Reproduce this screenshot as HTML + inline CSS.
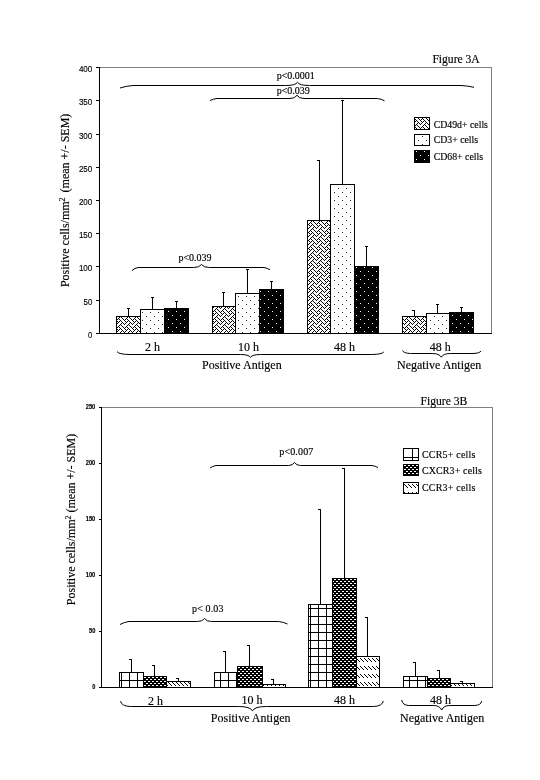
<!DOCTYPE html>
<html><head><meta charset="utf-8"><title>Figure 3</title>
<style>
html,body{margin:0;padding:0;background:#fff;}
body{width:540px;height:780px;overflow:hidden;font-family:"Liberation Serif",serif;}
svg{display:block;will-change:transform;}
text{fill:#000;stroke:#000;stroke-width:0.15px;}
</style></head><body>
<svg width="540" height="780" viewBox="0 0 540 780">
<defs>
<pattern id="weave" patternUnits="userSpaceOnUse" x="4" y="0" width="8" height="8"><rect x="0" y="0" width="8" height="8" fill="#fff"/><rect x="0" y="0" width="1" height="1" fill="#000"/><rect x="4" y="0" width="1" height="1" fill="#000"/><rect x="1" y="1" width="1" height="1" fill="#000"/><rect x="3" y="1" width="1" height="1" fill="#000"/><rect x="5" y="1" width="1" height="1" fill="#000"/><rect x="2" y="2" width="1" height="1" fill="#000"/><rect x="6" y="2" width="1" height="1" fill="#000"/><rect x="1" y="3" width="1" height="1" fill="#000"/><rect x="5" y="3" width="1" height="1" fill="#000"/><rect x="7" y="3" width="1" height="1" fill="#000"/><rect x="0" y="4" width="1" height="1" fill="#000"/><rect x="4" y="4" width="1" height="1" fill="#000"/><rect x="3" y="5" width="1" height="1" fill="#000"/><rect x="5" y="5" width="1" height="1" fill="#000"/><rect x="2" y="6" width="1" height="1" fill="#000"/><rect x="6" y="6" width="1" height="1" fill="#000"/><rect x="1" y="7" width="1" height="1" fill="#000"/><rect x="3" y="7" width="1" height="1" fill="#000"/><rect x="7" y="7" width="1" height="1" fill="#000"/></pattern>
<pattern id="dots" patternUnits="userSpaceOnUse" x="0" y="0" width="8" height="8"><rect x="0" y="0" width="8" height="8" fill="#fff"/><rect x="6" y="0" width="1" height="1" fill="#222"/><rect x="2" y="4" width="1" height="1" fill="#222"/></pattern>
<pattern id="dotsinv" patternUnits="userSpaceOnUse" x="0" y="0" width="8" height="8"><rect x="0" y="0" width="8" height="8" fill="#000"/><rect x="4" y="3" width="1" height="1" fill="#fff"/><rect x="0" y="7" width="1" height="1" fill="#fff"/></pattern>
<pattern id="dash" patternUnits="userSpaceOnUse" x="0" y="0" width="4" height="4"><rect x="0" y="0" width="4" height="4" fill="#000"/><rect x="0" y="1" width="2" height="1" fill="#fff"/><rect x="2" y="3" width="2" height="1" fill="#fff"/></pattern>
<pattern id="ddiag2" patternUnits="userSpaceOnUse" x="0" y="2" width="4" height="8"><rect x="0" y="0" width="4" height="8" fill="#fff"/><rect x="0" y="2" width="1" height="1" fill="#000"/><rect x="1" y="3" width="1" height="1" fill="#000"/><rect x="2" y="4" width="1" height="1" fill="#000"/><rect x="3" y="5" width="1" height="1" fill="#000"/></pattern>
<pattern id="ddiag" patternUnits="userSpaceOnUse" x="0" y="0" width="4" height="8"><rect x="0" y="0" width="4" height="8" fill="#fff"/><rect x="0" y="2" width="1" height="1" fill="#000"/><rect x="1" y="3" width="1" height="1" fill="#000"/><rect x="2" y="4" width="1" height="1" fill="#000"/><rect x="3" y="5" width="1" height="1" fill="#000"/></pattern>
</defs>
<rect x="0" y="0" width="540" height="780" fill="#fff"/>
<g shape-rendering="crispEdges">
<line x1="99" y1="67.5" x2="492" y2="67.5" stroke="#808080" stroke-width="1"/>
<line x1="491.5" y1="67" x2="491.5" y2="334" stroke="#808080" stroke-width="1"/>
<line x1="128.5" y1="308" x2="128.5" y2="316" stroke="#000" stroke-width="1"/>
<line x1="127" y1="308.5" x2="130" y2="308.5" stroke="#000" stroke-width="1"/>
<line x1="152.5" y1="297" x2="152.5" y2="309" stroke="#000" stroke-width="1"/>
<line x1="151" y1="297.5" x2="154" y2="297.5" stroke="#000" stroke-width="1"/>
<line x1="176.5" y1="301" x2="176.5" y2="308" stroke="#000" stroke-width="1"/>
<line x1="175" y1="301.5" x2="178" y2="301.5" stroke="#000" stroke-width="1"/>
<rect x="116.5" y="316.5" width="24" height="17" fill="url(#weave)" stroke="#000" stroke-width="1"/>
<rect x="140.5" y="309.5" width="24" height="24" fill="url(#dots)" stroke="#000" stroke-width="1"/>
<rect x="164.5" y="308.5" width="24" height="25" fill="url(#dotsinv)" stroke="#000" stroke-width="1"/>
<line x1="223.5" y1="292" x2="223.5" y2="306" stroke="#000" stroke-width="1"/>
<line x1="222" y1="292.5" x2="225" y2="292.5" stroke="#000" stroke-width="1"/>
<line x1="247.5" y1="269" x2="247.5" y2="293" stroke="#000" stroke-width="1"/>
<line x1="246" y1="269.5" x2="249" y2="269.5" stroke="#000" stroke-width="1"/>
<line x1="271.5" y1="281" x2="271.5" y2="289" stroke="#000" stroke-width="1"/>
<line x1="270" y1="281.5" x2="273" y2="281.5" stroke="#000" stroke-width="1"/>
<rect x="212.5" y="306.5" width="23" height="27" fill="url(#weave)" stroke="#000" stroke-width="1"/>
<rect x="235.5" y="293.5" width="24" height="40" fill="url(#dots)" stroke="#000" stroke-width="1"/>
<rect x="259.5" y="289.5" width="24" height="44" fill="url(#dotsinv)" stroke="#000" stroke-width="1"/>
<line x1="319.5" y1="160" x2="319.5" y2="220" stroke="#000" stroke-width="1"/>
<line x1="317" y1="160.5" x2="320" y2="160.5" stroke="#000" stroke-width="1"/>
<line x1="342.5" y1="100" x2="342.5" y2="184" stroke="#000" stroke-width="1"/>
<line x1="341" y1="100.5" x2="344" y2="100.5" stroke="#000" stroke-width="1"/>
<line x1="366.5" y1="246" x2="366.5" y2="266" stroke="#000" stroke-width="1"/>
<line x1="365" y1="246.5" x2="368" y2="246.5" stroke="#000" stroke-width="1"/>
<rect x="307.5" y="220.5" width="23" height="113" fill="url(#weave)" stroke="#000" stroke-width="1"/>
<rect x="330.5" y="184.5" width="24" height="149" fill="url(#dots)" stroke="#000" stroke-width="1"/>
<rect x="354.5" y="266.5" width="24" height="67" fill="url(#dotsinv)" stroke="#000" stroke-width="1"/>
<line x1="414.5" y1="310" x2="414.5" y2="316" stroke="#000" stroke-width="1"/>
<line x1="412" y1="310.5" x2="415" y2="310.5" stroke="#000" stroke-width="1"/>
<line x1="437.5" y1="304" x2="437.5" y2="313" stroke="#000" stroke-width="1"/>
<line x1="436" y1="304.5" x2="439" y2="304.5" stroke="#000" stroke-width="1"/>
<line x1="461.5" y1="307" x2="461.5" y2="312" stroke="#000" stroke-width="1"/>
<line x1="460" y1="307.5" x2="463" y2="307.5" stroke="#000" stroke-width="1"/>
<rect x="402.5" y="316.5" width="24" height="17" fill="url(#weave)" stroke="#000" stroke-width="1"/>
<rect x="426.5" y="313.5" width="23" height="20" fill="url(#dots)" stroke="#000" stroke-width="1"/>
<rect x="449.5" y="312.5" width="24" height="21" fill="url(#dotsinv)" stroke="#000" stroke-width="1"/>
<line x1="99.5" y1="67" x2="99.5" y2="334" stroke="#000" stroke-width="1"/>
<line x1="99" y1="333.5" x2="492" y2="333.5" stroke="#000" stroke-width="1"/>
<line x1="96" y1="333.5" x2="99" y2="333.5" stroke="#000" stroke-width="1"/>
<text x="92.3" y="338.4" font-family="Liberation Sans" font-size="9.9" text-anchor="end" textLength="4.3" lengthAdjust="spacingAndGlyphs">0</text>
<line x1="96" y1="300.5" x2="99" y2="300.5" stroke="#000" stroke-width="1"/>
<text x="92.3" y="305.4" font-family="Liberation Sans" font-size="9.9" text-anchor="end" textLength="8.8" lengthAdjust="spacingAndGlyphs">50</text>
<line x1="96" y1="266.5" x2="99" y2="266.5" stroke="#000" stroke-width="1"/>
<text x="92.3" y="271.4" font-family="Liberation Sans" font-size="9.9" text-anchor="end" textLength="13.4" lengthAdjust="spacingAndGlyphs">100</text>
<line x1="96" y1="233.5" x2="99" y2="233.5" stroke="#000" stroke-width="1"/>
<text x="92.3" y="238.4" font-family="Liberation Sans" font-size="9.9" text-anchor="end" textLength="13.4" lengthAdjust="spacingAndGlyphs">150</text>
<line x1="96" y1="200.5" x2="99" y2="200.5" stroke="#000" stroke-width="1"/>
<text x="92.3" y="205.4" font-family="Liberation Sans" font-size="9.9" text-anchor="end" textLength="13.4" lengthAdjust="spacingAndGlyphs">200</text>
<line x1="96" y1="167.5" x2="99" y2="167.5" stroke="#000" stroke-width="1"/>
<text x="92.3" y="172.4" font-family="Liberation Sans" font-size="9.9" text-anchor="end" textLength="13.4" lengthAdjust="spacingAndGlyphs">250</text>
<line x1="96" y1="134.5" x2="99" y2="134.5" stroke="#000" stroke-width="1"/>
<text x="92.3" y="139.4" font-family="Liberation Sans" font-size="9.9" text-anchor="end" textLength="13.4" lengthAdjust="spacingAndGlyphs">300</text>
<line x1="96" y1="100.5" x2="99" y2="100.5" stroke="#000" stroke-width="1"/>
<text x="92.3" y="105.4" font-family="Liberation Sans" font-size="9.9" text-anchor="end" textLength="13.4" lengthAdjust="spacingAndGlyphs">350</text>
<line x1="96" y1="67.5" x2="99" y2="67.5" stroke="#000" stroke-width="1"/>
<text x="92.3" y="72.4" font-family="Liberation Sans" font-size="9.9" text-anchor="end" textLength="13.4" lengthAdjust="spacingAndGlyphs">400</text>
<text x="432.4" y="62.5" font-family="Liberation Serif" font-size="11.6" text-anchor="start" >Figure 3A</text>
<text transform="translate(68.7,287.1) rotate(-90)" font-family="Liberation Serif" font-size="12">Positive cells/mm<tspan font-size="8" dy="-4">2</tspan><tspan dy="4" dx="2"> (mean +/- SEM)</tspan></text>
<rect x="414.5" y="117.5" width="15" height="12" fill="url(#weave)" stroke="#000" stroke-width="1"/>
<rect x="414.5" y="134.5" width="15" height="11" fill="url(#dots)" stroke="#000" stroke-width="1"/>
<rect x="414.5" y="150.5" width="15" height="12" fill="url(#dotsinv)" stroke="#000" stroke-width="1"/>
<text x="433.7" y="127.5" font-family="Liberation Serif" font-size="9.8" text-anchor="start" >CD49d+ cells</text>
<text x="433.7" y="143" font-family="Liberation Serif" font-size="9.8" text-anchor="start" >CD3+ cells</text>
<text x="433.7" y="160" font-family="Liberation Serif" font-size="9.8" text-anchor="start" >CD68+ cells</text>
<text x="152.5" y="350.5" font-family="Liberation Serif" font-size="12" text-anchor="middle" >2 h</text>
<text x="248.6" y="350.5" font-family="Liberation Serif" font-size="12" text-anchor="middle" >10 h</text>
<text x="344.5" y="350.5" font-family="Liberation Serif" font-size="12" text-anchor="middle" >48 h</text>
<text x="440.3" y="350.5" font-family="Liberation Serif" font-size="12" text-anchor="middle" >48 h</text>
<text x="202" y="369" font-family="Liberation Serif" font-size="12" text-anchor="start" >Positive Antigen</text>
<text x="397" y="369.3" font-family="Liberation Serif" font-size="12" text-anchor="start" >Negative Antigen</text>
<text x="276.7" y="79.3" font-family="Liberation Serif" font-size="10" text-anchor="start" >p&lt;0.0001</text>
<text x="276.7" y="94.3" font-family="Liberation Serif" font-size="10" text-anchor="start" >p&lt;0.039</text>
<text x="178.4" y="260.8" font-family="Liberation Serif" font-size="10" text-anchor="start" >p&lt;0.039</text>
<line x1="101" y1="407.5" x2="493" y2="407.5" stroke="#808080" stroke-width="1"/>
<line x1="492.5" y1="407" x2="492.5" y2="688" stroke="#808080" stroke-width="1"/>
<line x1="131.5" y1="659" x2="131.5" y2="672" stroke="#000" stroke-width="1"/>
<line x1="129" y1="659.5" x2="132" y2="659.5" stroke="#000" stroke-width="1"/>
<line x1="154.5" y1="665" x2="154.5" y2="676" stroke="#000" stroke-width="1"/>
<line x1="152" y1="665.5" x2="155" y2="665.5" stroke="#000" stroke-width="1"/>
<line x1="178.5" y1="678" x2="178.5" y2="681" stroke="#000" stroke-width="1"/>
<line x1="176" y1="678.5" x2="179" y2="678.5" stroke="#000" stroke-width="1"/>
<rect x="119.5" y="672.5" width="24" height="15" fill="#fff" stroke="#000" stroke-width="1"/>
<line x1="121.5" y1="672" x2="121.5" y2="687" stroke="#000" stroke-width="1"/>
<line x1="129.5" y1="672" x2="129.5" y2="687" stroke="#000" stroke-width="1"/>
<line x1="137.5" y1="672" x2="137.5" y2="687" stroke="#000" stroke-width="1"/>
<line x1="119" y1="680.5" x2="143" y2="680.5" stroke="#000" stroke-width="1"/>
<rect x="143.5" y="676.5" width="23" height="11" fill="url(#dash)" stroke="#000" stroke-width="1"/>
<rect x="166.5" y="681.5" width="24" height="6" fill="url(#ddiag)" stroke="#000" stroke-width="1"/>
<line x1="225.5" y1="651" x2="225.5" y2="672" stroke="#000" stroke-width="1"/>
<line x1="223" y1="651.5" x2="226" y2="651.5" stroke="#000" stroke-width="1"/>
<line x1="249.5" y1="645" x2="249.5" y2="666" stroke="#000" stroke-width="1"/>
<line x1="247" y1="645.5" x2="250" y2="645.5" stroke="#000" stroke-width="1"/>
<line x1="273.5" y1="679" x2="273.5" y2="684" stroke="#000" stroke-width="1"/>
<line x1="271" y1="679.5" x2="274" y2="679.5" stroke="#000" stroke-width="1"/>
<rect x="214.5" y="672.5" width="22" height="15" fill="#fff" stroke="#000" stroke-width="1"/>
<line x1="220.5" y1="672" x2="220.5" y2="687" stroke="#000" stroke-width="1"/>
<line x1="228.5" y1="672" x2="228.5" y2="687" stroke="#000" stroke-width="1"/>
<line x1="214" y1="680.5" x2="236" y2="680.5" stroke="#000" stroke-width="1"/>
<rect x="237.5" y="666.5" width="25" height="21" fill="url(#dash)" stroke="#000" stroke-width="1"/>
<rect x="262.5" y="684.5" width="23" height="3" fill="url(#ddiag)" stroke="#000" stroke-width="1"/>
<line x1="320.5" y1="509" x2="320.5" y2="604" stroke="#000" stroke-width="1"/>
<line x1="318" y1="509.5" x2="321" y2="509.5" stroke="#000" stroke-width="1"/>
<line x1="344.5" y1="468" x2="344.5" y2="578" stroke="#000" stroke-width="1"/>
<line x1="342" y1="468.5" x2="345" y2="468.5" stroke="#000" stroke-width="1"/>
<line x1="367.5" y1="617" x2="367.5" y2="656" stroke="#000" stroke-width="1"/>
<line x1="365" y1="617.5" x2="368" y2="617.5" stroke="#000" stroke-width="1"/>
<rect x="308.5" y="604.5" width="24" height="83" fill="#fff" stroke="#000" stroke-width="1"/>
<line x1="310.5" y1="604" x2="310.5" y2="687" stroke="#000" stroke-width="1"/>
<line x1="318.5" y1="604" x2="318.5" y2="687" stroke="#000" stroke-width="1"/>
<line x1="326.5" y1="604" x2="326.5" y2="687" stroke="#000" stroke-width="1"/>
<line x1="308" y1="680.5" x2="332" y2="680.5" stroke="#000" stroke-width="1"/>
<line x1="308" y1="672.5" x2="332" y2="672.5" stroke="#000" stroke-width="1"/>
<line x1="308" y1="664.5" x2="332" y2="664.5" stroke="#000" stroke-width="1"/>
<line x1="308" y1="656.5" x2="332" y2="656.5" stroke="#000" stroke-width="1"/>
<line x1="308" y1="648.5" x2="332" y2="648.5" stroke="#000" stroke-width="1"/>
<line x1="308" y1="640.5" x2="332" y2="640.5" stroke="#000" stroke-width="1"/>
<line x1="308" y1="632.5" x2="332" y2="632.5" stroke="#000" stroke-width="1"/>
<line x1="308" y1="624.5" x2="332" y2="624.5" stroke="#000" stroke-width="1"/>
<line x1="308" y1="616.5" x2="332" y2="616.5" stroke="#000" stroke-width="1"/>
<line x1="308" y1="608.5" x2="332" y2="608.5" stroke="#000" stroke-width="1"/>
<rect x="332.5" y="578.5" width="24" height="109" fill="url(#dash)" stroke="#000" stroke-width="1"/>
<rect x="356.5" y="656.5" width="23" height="31" fill="url(#ddiag)" stroke="#000" stroke-width="1"/>
<line x1="415.5" y1="662" x2="415.5" y2="676" stroke="#000" stroke-width="1"/>
<line x1="413" y1="662.5" x2="416" y2="662.5" stroke="#000" stroke-width="1"/>
<line x1="439.5" y1="670" x2="439.5" y2="678" stroke="#000" stroke-width="1"/>
<line x1="437" y1="670.5" x2="440" y2="670.5" stroke="#000" stroke-width="1"/>
<line x1="462.5" y1="681" x2="462.5" y2="683" stroke="#000" stroke-width="1"/>
<line x1="460" y1="681.5" x2="463" y2="681.5" stroke="#000" stroke-width="1"/>
<rect x="403.5" y="676.5" width="24" height="11" fill="#fff" stroke="#000" stroke-width="1"/>
<line x1="409.5" y1="676" x2="409.5" y2="687" stroke="#000" stroke-width="1"/>
<line x1="417.5" y1="676" x2="417.5" y2="687" stroke="#000" stroke-width="1"/>
<line x1="425.5" y1="676" x2="425.5" y2="687" stroke="#000" stroke-width="1"/>
<line x1="403" y1="680.5" x2="427" y2="680.5" stroke="#000" stroke-width="1"/>
<rect x="427.5" y="678.5" width="23" height="9" fill="url(#dash)" stroke="#000" stroke-width="1"/>
<rect x="450.5" y="683.5" width="24" height="4" fill="url(#ddiag)" stroke="#000" stroke-width="1"/>
<line x1="101.5" y1="407" x2="101.5" y2="688" stroke="#000" stroke-width="1"/>
<line x1="101" y1="687.5" x2="493" y2="687.5" stroke="#000" stroke-width="1"/>
<line x1="99" y1="687.5" x2="101" y2="687.5" stroke="#000" stroke-width="1"/>
<text x="95.3" y="689.4" font-family="Liberation Sans" font-size="6.6" text-anchor="end" font-weight="bold" textLength="3.1" lengthAdjust="spacingAndGlyphs">0</text>
<line x1="99" y1="631.5" x2="101" y2="631.5" stroke="#000" stroke-width="1"/>
<text x="95.3" y="633.4" font-family="Liberation Sans" font-size="6.6" text-anchor="end" font-weight="bold" textLength="6.3" lengthAdjust="spacingAndGlyphs">50</text>
<line x1="99" y1="575.5" x2="101" y2="575.5" stroke="#000" stroke-width="1"/>
<text x="95.3" y="577.4" font-family="Liberation Sans" font-size="6.6" text-anchor="end" font-weight="bold" textLength="9.5" lengthAdjust="spacingAndGlyphs">100</text>
<line x1="99" y1="519.5" x2="101" y2="519.5" stroke="#000" stroke-width="1"/>
<text x="95.3" y="521.4" font-family="Liberation Sans" font-size="6.6" text-anchor="end" font-weight="bold" textLength="9.5" lengthAdjust="spacingAndGlyphs">150</text>
<line x1="99" y1="463.5" x2="101" y2="463.5" stroke="#000" stroke-width="1"/>
<text x="95.3" y="465.4" font-family="Liberation Sans" font-size="6.6" text-anchor="end" font-weight="bold" textLength="9.5" lengthAdjust="spacingAndGlyphs">200</text>
<line x1="99" y1="407.5" x2="101" y2="407.5" stroke="#000" stroke-width="1"/>
<text x="95.3" y="409.4" font-family="Liberation Sans" font-size="6.6" text-anchor="end" font-weight="bold" textLength="9.5" lengthAdjust="spacingAndGlyphs">250</text>
<text x="420.6" y="404.5" font-family="Liberation Serif" font-size="11.6" text-anchor="start" >Figure 3B</text>
<text transform="translate(75.3,605.2) rotate(-90)" font-family="Liberation Serif" font-size="12">Positive cells/mm<tspan font-size="8" dy="-4">2</tspan><tspan dy="4"> (mean +/- SEM)</tspan></text>
<rect x="403.5" y="448.5" width="15" height="12" fill="#fff" stroke="#000" stroke-width="1"/>
<line x1="412.5" y1="448" x2="412.5" y2="461" stroke="#000" stroke-width="1"/>
<line x1="403" y1="457.5" x2="419" y2="457.5" stroke="#000" stroke-width="1"/>
<rect x="403.5" y="464.5" width="15" height="11" fill="url(#dash)" stroke="#000" stroke-width="1"/>
<rect x="403.5" y="482.5" width="15" height="11" fill="url(#ddiag2)" stroke="#000" stroke-width="1"/>
<text x="421.9" y="458" font-family="Liberation Serif" font-size="10" text-anchor="start" textLength="53.6" lengthAdjust="spacing">CCR5+  cells</text>
<text x="421.9" y="474.3" font-family="Liberation Serif" font-size="10" text-anchor="start" textLength="60" lengthAdjust="spacing">CXCR3+  cells</text>
<text x="421.9" y="491" font-family="Liberation Serif" font-size="10" text-anchor="start" textLength="53.6" lengthAdjust="spacing">CCR3+  cells</text>
<text x="155.5" y="704.5" font-family="Liberation Serif" font-size="12" text-anchor="middle" >2 h</text>
<text x="252" y="704.3" font-family="Liberation Serif" font-size="12" text-anchor="middle" >10 h</text>
<text x="344.5" y="704" font-family="Liberation Serif" font-size="12" text-anchor="middle" >48 h</text>
<text x="440.5" y="704" font-family="Liberation Serif" font-size="12" text-anchor="middle" >48 h</text>
<text x="210.8" y="722" font-family="Liberation Serif" font-size="12" text-anchor="start" >Positive Antigen</text>
<text x="400" y="721.8" font-family="Liberation Serif" font-size="12" text-anchor="start" >Negative Antigen</text>
<text x="279.3" y="454.5" font-family="Liberation Serif" font-size="10" text-anchor="start" textLength="34" lengthAdjust="spacing">p&lt;0.007</text>
<text x="192" y="611.8" font-family="Liberation Serif" font-size="10" text-anchor="start" textLength="31.5" lengthAdjust="spacing">p&lt; 0.03</text>
</g>
<g>
<path d="M120,88 Q125.85,86.05 133,85.5 L285.5,85.5 Q295.5,85.5 297.5,82.3 Q299.5,85.5 309.5,85.5 L461,85.5 Q468.15,85.90 474,87.3" fill="none" stroke="#000" stroke-width="1"/>
<path d="M210,100.5 Q213.15,98.94 217,98.5 L290,98.5 Q295,98.5 297,95.3 Q299,98.5 304,98.5 L377.5,98.5 Q381.35,99.01 384.5,100.8" fill="none" stroke="#000" stroke-width="1"/>
<path d="M132,270.5 Q134.70,268.16 138,267.5 L193.5,267.5 Q199.5,267.5 201.5,264.5 Q203.5,267.5 209.5,267.5 L264,267.5 Q267.30,268.01 270,269.8" fill="none" stroke="#000" stroke-width="1"/>
<path d="M117,351.6 Q118.80,354.27 129,354.5 L240.5,354.5 Q248.5,354.5 250.5,357.3 Q252.5,354.5 260.5,354.5 L371.8,354.5 Q382.00,354.30 383.8,352" fill="none" stroke="#000" stroke-width="1"/>
<path d="M402.5,350.5 Q403.70,353.26 410.5,353.5 L432.3,353.5 Q439.3,353.5 441.3,357.2 Q443.3,353.5 450.3,353.5 L473,353.5 Q479.80,353.30 481,351" fill="none" stroke="#000" stroke-width="1"/>
<path d="M210,468 Q212.70,466.05 216,465.5 L288.5,465.5 Q292.5,465.5 294.5,462.5 Q296.5,465.5 300.5,465.5 L372,465.5 Q375.30,465.96 378,467.6" fill="none" stroke="#000" stroke-width="1"/>
<path d="M120,624.5 Q124.05,622.16 129,621.5 L197.5,621.5 Q202.5,621.5 204.5,618.5 Q206.5,621.5 211.5,621.5 L278.5,621.5 Q283.45,622.05 287.5,624" fill="none" stroke="#000" stroke-width="1"/>
<path d="M120.5,701.2 Q121.50,706.24 130.5,706.5 L238.5,706.5 Q250.5,706.5 252.5,710.8 Q254.5,706.5 266.5,706.5 L373.3,706.5 Q382.30,706.23 383.3,701" fill="none" stroke="#000" stroke-width="1"/>
<path d="M401.7,700 Q402.40,705.23 408.7,705.5 L433.7,705.5 Q439.7,705.5 441.7,710 Q443.7,705.5 449.7,705.5 L474.7,705.5 Q481.00,705.27 481.7,701" fill="none" stroke="#000" stroke-width="1"/>
</g>
</svg>
</body></html>
